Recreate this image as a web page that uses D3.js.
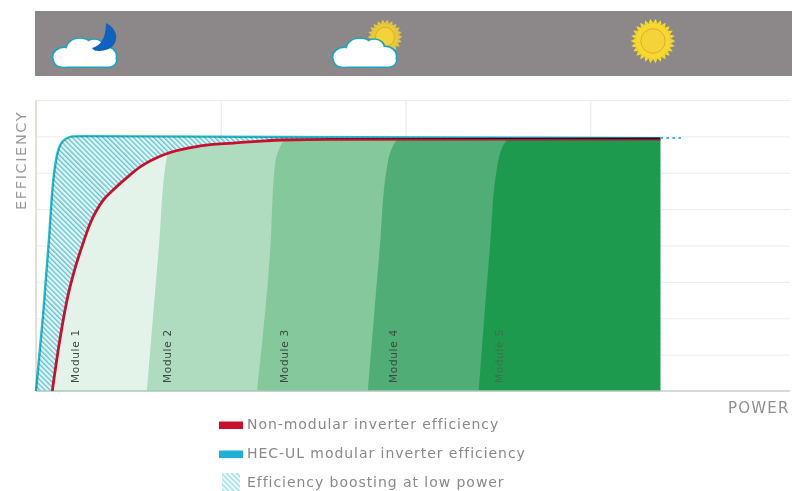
<!DOCTYPE html>
<html>
<head>
<meta charset="utf-8">
<title>Inverter efficiency</title>
<script src="https://d3js.org/d3.v7.min.js"></script>
<style>
html, body { margin: 0; padding: 0; background: #fff; overflow: hidden; }
svg { display: block; }
text { font-family: "DejaVu Sans", sans-serif; }
.soft { filter: blur(0.55px); }
</style>
</head>
<body>
<div id="chart"></div>
<script>
// power in % of rated, efficiency in % of chart height
var nonModular = [[2.2,0],[3,14],[4.2,31.3],[5.3,42.3],[6.2,49.5],[7.3,57.4],[9.1,65.6],[10.4,69],[12.7,74.2],[14.1,77],[17.2,81.1],[22.2,84.2],[26.7,85.2],[33.4,86.25],[40.2,86.5],[84.5,86.6]];
var modular = [[0,0],[0.95,26],[1.75,52],[2.2,68.7],[2.87,81.4],[3.65,85.9],[5,87.5],[6.6,87.6],[33,87.3],[84.5,86.9]];
var moduleNames = ["Module 1","Module 2","Module 3","Module 4","Module 5"];
var moduleColors = ["#e4f3ea","#afdbbf","#84c89b","#4fad75","#1d9a4e"];
var moduleLabelX = [5.8,18.3,34.1,48.8,63.2];
var moduleEdges = [
  null,
  [[15,0],[16.6,48.5],[17.7,80.4],[18.6,88]],
  [[29.9,0],[31.7,48.5],[32.3,77],[33.4,85.6],[34.5,88]],
  [[44.9,0],[46.5,48.5],[47.5,77],[48.6,85.5],[50,88]],
  [[59.9,0],[61.4,48.5],[62.4,77],[63.5,85.5],[65,88]]
];
var legendNames = ["Non-modular inverter efficiency","HEC-UL modular inverter efficiency","Efficiency boosting at low power"];
var legendColors = ["#c8102e","#1fb0d6",null];
var gridPower = [0,25,50,75];
var gridEff = [12.5,25,37.5,50,62.5,75,87.5,100];
var maxPower = 84.5;

var width = 792, height = 491;
var x = d3.scaleLinear().domain([0,100]).range([36,775]);
var y = d3.scaleLinear().domain([0,100]).range([391,100]);

var svg = d3.select("#chart").append("svg").attr("width",width).attr("height",height);
var defs = svg.append("defs");
var root = svg.append("g").attr("class","soft");

var hatch = defs.append("pattern").attr("id","hatch").attr("patternUnits","userSpaceOnUse")
  .attr("width",3.6).attr("height",3.6).attr("patternTransform","rotate(-45)");
hatch.append("rect").attr("width",3.6).attr("height",3.6).attr("fill","#e6f6f8");
hatch.append("rect").attr("width",1.4).attr("height",3.6).attr("fill","#62c6d2");

// banner
root.append("rect").attr("x",35).attr("y",11).attr("width",757).attr("height",65).attr("fill","#8c8889");

function cloud(g) {
  var parts = [[-19,9,9],[-6,2,11],[6,0,8],[15,8,9]];
  [["#1ea3c4",3],["#ffffff",0]].forEach(function(s) {
    var c = g.append("g").attr("fill",s[0]).attr("stroke",s[0]).attr("stroke-width",s[1]);
    c.selectAll("circle").data(parts).join("circle")
      .attr("cx",function(d){return d[0];}).attr("cy",function(d){return d[1];}).attr("r",function(d){return d[2];});
    c.append("rect").attr("x",-27).attr("y",6).attr("width",51).attr("height",12).attr("rx",6);
  });
}
function sun(g, r, n, color) {
  var rays = d3.range(n).map(function(i){return i*2*Math.PI/n;});
  g.selectAll("path").data(rays).join("path")
    .attr("d",function(a){
      var w = Math.PI/n;
      return "M"+Math.cos(a-w)*r+","+Math.sin(a-w)*r+"L"+Math.cos(a)*(r*1.24)+","+Math.sin(a)*(r*1.24)+"L"+Math.cos(a+w)*r+","+Math.sin(a+w)*r+"Z";
    }).attr("fill",color);
  g.append("circle").attr("r",r).attr("fill",color);
  g.append("circle").attr("r",r*0.68).attr("fill","#f3d337").attr("stroke","#e0a93a").attr("stroke-width",1);
}

cloud(root.append("g").attr("transform","translate(87,48) scale(1.2,1.03)"));
root.append("path").attr("transform","translate(100,37)")
  .attr("d","M6,-14 C21,-7 20,13 0,14 C-3,14 -6,14 -8,11 C0,9 6,2 6,-14Z")
  .attr("fill","#0f62bd");

sun(root.append("g").attr("transform","translate(385,37)"),14,22,"#e6c83c");
cloud(root.append("g").attr("transform","translate(367,48) scale(1.2,1.03)"));

sun(root.append("g").attr("transform","translate(653,41)"),18,26,"#f6d92c");

// grid
var grid = root.append("g");
var xAxis = d3.axisBottom(x).tickValues(gridPower).tickSize(y(0)-y(100)).tickFormat("");
var yAxis = d3.axisRight(y).tickValues(gridEff).tickSize(x(102)-x(0)).tickFormat("");
var gx = grid.append("g").attr("transform","translate(0,"+y(100)+")").call(xAxis);
var gy = grid.append("g").attr("transform","translate("+x(0)+",0)").call(yAxis);
gx.select(".domain").remove();
gy.select(".domain").remove();
gx.selectAll("line").attr("stroke","#e6e6e6");
gy.selectAll("line").attr("stroke","#ececec");
root.append("line").attr("x1",x(0)).attr("x2",x(0)).attr("y1",y(100)).attr("y2",y(0)).attr("stroke","#dcd8cc").attr("stroke-width",1.5);

// curves
var curve = d3.curveMonotoneX;
var line = d3.line().x(function(d){return x(d[0]);}).y(function(d){return y(d[1]);}).curve(curve);
var under = d3.area().x(function(d){return x(d[0]);}).y0(y(0)).y1(function(d){return y(d[1]);}).curve(curve);

root.append("path").datum(modular).attr("d",under).attr("fill","url(#hatch)");

defs.append("clipPath").attr("id","belowRed").append("path").datum(nonModular).attr("d",under);

var edgeArea = d3.area().y(function(d){return y(d[1]);}).x0(function(d){return x(d[0]);}).x1(x(maxPower)).curve(d3.curveMonotoneY);
var mods = root.append("g").attr("clip-path","url(#belowRed)");
mods.selectAll("path").data(moduleEdges).join("path")
  .attr("d",function(d){ return d ? edgeArea(d) : under(nonModular); })
  .attr("fill",function(d,i){return moduleColors[i];});

root.append("line").attr("x1",x(0)).attr("x2",x(maxPower)).attr("y1",y(0)).attr("y2",y(0)).attr("stroke","#a9c9b6").attr("stroke-width",1.5);
root.append("line").attr("x1",x(maxPower)).attr("x2",x(102)).attr("y1",y(0)).attr("y2",y(0)).attr("stroke","#cccccc").attr("stroke-width",1.5);

root.append("path").datum(nonModular).attr("d",line).attr("fill","none").attr("stroke","#c8102e").attr("stroke-width",2.8);
root.append("path").datum(modular).attr("d",line).attr("fill","none").attr("stroke","#2cbccb").attr("stroke-width",2.4)
  .style("mix-blend-mode","multiply");
root.append("line").attr("x1",x(maxPower)).attr("x2",x(87.4)).attr("y1",y(86.9)).attr("y2",y(86.9))
  .attr("stroke","#3fb9c9").attr("stroke-width",2).attr("stroke-dasharray","2.5 3.5");

// labels
root.selectAll(".module").data(moduleNames).join("text").attr("class","module")
  .attr("transform",function(d,i){return "translate("+x(moduleLabelX[i])+",383) rotate(-90)";})
  .attr("font-size",10.5).attr("letter-spacing",0.7).attr("fill",function(d,i){return i==4 ? "#40704f" : "#3d4a44";})
  .text(function(d){return d;});

root.append("text").attr("transform","translate(26,210) rotate(-90)")
  .attr("font-size",14.5).attr("letter-spacing",1.6).attr("fill","#9a9a9a").text("EFFICIENCY");
root.append("text").attr("x",728).attr("y",413)
  .attr("font-size",15).attr("letter-spacing",1.2).attr("fill","#8f8f8f").text("POWER");

// legend
var legendY = d3.scaleLinear().domain([0,2]).range([424,482]);
var legend = root.selectAll(".legend").data(legendNames).join("g").attr("class","legend")
  .attr("transform",function(d,i){return "translate(0,"+legendY(i)+")";});
legend.append("text").attr("x",247).attr("y",5).attr("font-size",14).attr("letter-spacing",0.95)
  .attr("fill","#8a8a8a").text(function(d){return d;});
legend.filter(function(d,i){return legendColors[i];}).append("rect")
  .attr("x",219).attr("y",-2.5).attr("width",24).attr("height",7.5)
  .attr("fill",function(d){return legendColors[legendNames.indexOf(d)];});
legend.filter(function(d,i){return !legendColors[i];}).append("rect")
  .attr("x",222).attr("y",-9).attr("width",18).attr("height",18)
  .attr("fill","url(#hatch)").attr("opacity",0.6);
</script>
</body>
</html>
